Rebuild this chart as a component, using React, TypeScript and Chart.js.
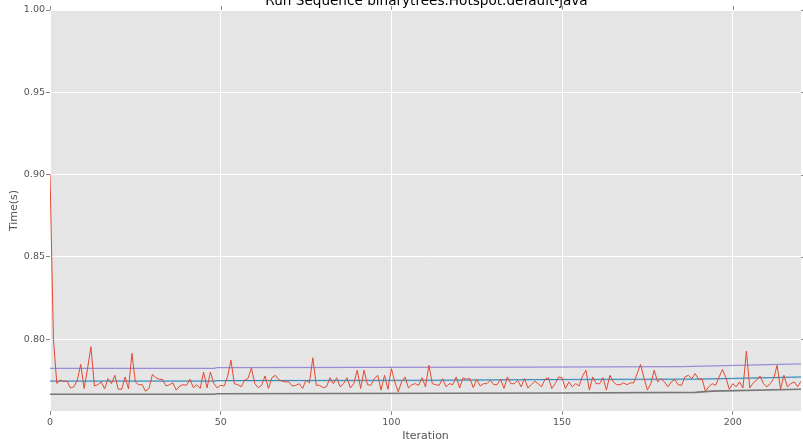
import React, { useEffect, useRef } from "react";
import { Chart, registerables } from "chart.js";

Chart.register(...registerables);

const chartTitle = "Run Sequence binarytrees.Hotspot.default-java";
const xAxisTitle = "Iteration";
const yAxisTitle = "Time(s)";
const xTicks = [0, 50, 100, 150, 200];
const yTicks = [0.8, 0.85, 0.9, 0.95, 1.0];

// Measured run times per iteration (index = iteration)
const runTimes = [
  0.9003, 0.8, 0.773, 0.775, 0.7744, 0.7744, 0.7703, 0.771, 0.775, 0.7846,
  0.77, 0.7821, 0.7953, 0.7715, 0.7723, 0.774, 0.7697, 0.776, 0.7729, 0.778,
  0.7695, 0.7695, 0.777, 0.7697, 0.7913, 0.774, 0.7723, 0.7723, 0.7683, 0.77,
  0.7785, 0.7765, 0.7756, 0.7754, 0.7715, 0.7723, 0.7734, 0.769, 0.7715, 0.7723,
  0.7719, 0.7756, 0.7705, 0.7723, 0.77, 0.78, 0.7703, 0.78, 0.7729, 0.7703,
  0.7719, 0.7715, 0.777, 0.7872, 0.7729, 0.7723, 0.771, 0.775, 0.776, 0.7825,
  0.7729, 0.7705, 0.7719, 0.7776, 0.77, 0.7765, 0.778, 0.7754, 0.7744, 0.774,
  0.774, 0.7715, 0.7719, 0.7729, 0.77, 0.775, 0.7734, 0.7886, 0.7719, 0.7719,
  0.7705, 0.771, 0.7765, 0.7729, 0.7765, 0.771, 0.7729, 0.7765, 0.7703, 0.7729,
  0.7811, 0.77, 0.7811, 0.7723, 0.7719, 0.776, 0.778, 0.769, 0.778, 0.7695,
  0.7821, 0.774, 0.768, 0.774, 0.777, 0.7703, 0.7723, 0.7729, 0.7719, 0.7765,
  0.771, 0.7841, 0.7729, 0.7723, 0.7719, 0.776, 0.771, 0.7729, 0.7723, 0.777,
  0.7703, 0.7765, 0.7756, 0.776, 0.7705, 0.7756, 0.7715, 0.7729, 0.7729, 0.775,
  0.7723, 0.7723, 0.7756, 0.77, 0.777, 0.7729, 0.7729, 0.775, 0.771, 0.776,
  0.7703, 0.7723, 0.7744, 0.7729, 0.771, 0.7756, 0.7765, 0.77, 0.7729, 0.777,
  0.7765, 0.77, 0.774, 0.771, 0.7729, 0.7715, 0.7776, 0.7811, 0.769, 0.777,
  0.7729, 0.7729, 0.7765, 0.769, 0.778, 0.774, 0.7723, 0.7723, 0.7734, 0.7723,
  0.7734, 0.7734, 0.779, 0.7846, 0.7765, 0.769, 0.7729, 0.7811, 0.774, 0.776,
  0.774, 0.771, 0.774, 0.7754, 0.7723, 0.7719, 0.777, 0.778, 0.776, 0.779,
  0.7756, 0.776, 0.7683, 0.771, 0.7729, 0.7719, 0.777, 0.7815, 0.7765, 0.7695,
  0.7729, 0.771, 0.774, 0.7703, 0.7927, 0.7703, 0.7734, 0.775, 0.7776, 0.7729,
  0.771, 0.7729, 0.776, 0.7841, 0.7697, 0.778, 0.771, 0.7729, 0.774, 0.771,
  0.7744,
];

// Running upper bound (purple)
const upperIters = [0, 48, 49, 140, 185, 220];
const upperValues = [0.7822, 0.7822, 0.7827, 0.783, 0.7833, 0.785];

// Running mean (blue) and its band
const meanIters = [0, 48, 49, 111, 150, 190, 220];
const meanValues = [0.7745, 0.7745, 0.7748, 0.775, 0.7755, 0.7757, 0.777];
const bandUpperValues = [0.7749, 0.7749, 0.7751, 0.7753, 0.7758, 0.776, 0.7773];
const bandLowerValues = [0.7739, 0.7739, 0.7741, 0.7743, 0.7748, 0.775, 0.7763];

// Running lower bound (gray)
const lowerIters = [0, 48, 49, 150, 189, 194, 220];
const lowerValues = [0.7665, 0.7665, 0.7668, 0.7672, 0.7676, 0.7684, 0.7695];

const FONT = "'DejaVu Sans', sans-serif";

const toPoints = (xs: number[], ys: number[]) => xs.map((x, i) => ({ x, y: ys[i] }));

const decorPlugin = {
  id: "decor",
  beforeDraw(chart: any) {
    const { ctx, chartArea } = chart;
    ctx.save();
    ctx.fillStyle = "#ffffff";
    ctx.fillRect(0, 0, chart.width, chart.height);
    ctx.fillStyle = "#E5E5E5";
    ctx.fillRect(chartArea.left, chartArea.top, chartArea.right - chartArea.left, chartArea.bottom - chartArea.top);
    ctx.restore();
  },
  afterDraw(chart: any) {
    const { ctx, chartArea, scales } = chart;
    ctx.save();
    ctx.strokeStyle = "#888888";
    ctx.lineWidth = 1;
    ctx.beginPath();
    xTicks.forEach((v) => {
      const px = Math.round(scales.x.getPixelForValue(v)) + 0.5;
      ctx.moveTo(px, chartArea.top);
      ctx.lineTo(px, chartArea.top - 4);
    });
    yTicks.forEach((v) => {
      const py = Math.round(scales.y.getPixelForValue(v)) + 0.5;
      ctx.moveTo(chartArea.right, py);
      ctx.lineTo(chartArea.right + 4, py);
    });
    ctx.stroke();
    ctx.fillStyle = "#000000";
    ctx.font = `13.6px ${FONT}`;
    ctx.textAlign = "center";
    ctx.textBaseline = "alphabetic";
    ctx.fillText(chartTitle, (chartArea.left + chartArea.right) / 2 + 1, 5);
    ctx.restore();
  },
};

export default function App() {
  const canvasRef = useRef<HTMLCanvasElement | null>(null);

  useEffect(() => {
    if (!canvasRef.current) return;
    const chart = new Chart(canvasRef.current, {
      type: "line",
      data: {
        datasets: [
          {
            label: "run",
            data: runTimes.map((v, i) => ({ x: i, y: v })),
            borderColor: "#E24A33",
            borderWidth: 1,
            pointRadius: 0,
            fill: false,
          },
          {
            label: "upper",
            data: toPoints(upperIters, upperValues),
            borderColor: "#988ED5",
            borderWidth: 1.2,
            pointRadius: 0,
            fill: false,
          },
          {
            label: "mean",
            data: toPoints(meanIters, meanValues),
            borderColor: "#348ABD",
            borderWidth: 1,
            pointRadius: 0,
            fill: false,
          },
          {
            label: "bandUpper",
            data: toPoints(meanIters, bandUpperValues),
            borderColor: "rgba(0,0,0,0)",
            borderWidth: 0,
            pointRadius: 0,
            backgroundColor: "rgba(52,138,189,0.3)",
            fill: "+1",
          },
          {
            label: "bandLower",
            data: toPoints(meanIters, bandLowerValues),
            borderColor: "rgba(0,0,0,0)",
            borderWidth: 0,
            pointRadius: 0,
            fill: false,
          },
          {
            label: "lower",
            data: toPoints(lowerIters, lowerValues),
            borderColor: "#777777",
            borderWidth: 1.6,
            pointRadius: 0,
            fill: false,
          },
        ],
      },
      options: {
        animation: false,
        responsive: false,
        devicePixelRatio: 1,
        layout: { padding: { top: 10, right: 2, left: 0, bottom: 0 } },
        plugins: {
          legend: { display: false },
          tooltip: { enabled: false },
          title: { display: false },
        },
        elements: { line: { tension: 0 } },
        scales: {
          x: {
            type: "linear",
            min: 0,
            max: 220,
            afterBuildTicks: (s: any) => {
              s.ticks = xTicks.map((v) => ({ value: v }));
            },
            afterFit: (s: any) => {
              s.height = 33;
            },
            border: { display: false },
            grid: { color: "#ffffff", lineWidth: 1, tickLength: 4, tickColor: "#888888", drawTicks: true },
            ticks: {
              color: "#555555",
              font: { family: FONT, size: 9.5 },
              padding: 2,
              maxRotation: 0,
              autoSkip: false,
              callback: (v: any) => String(v),
            },
            title: {
              display: true,
              text: xAxisTitle,
              color: "#555555",
              font: { family: FONT, size: 11 },
              padding: { top: 0, bottom: 1.5 },
            },
          },
          y: {
            type: "linear",
            min: 0.7563,
            max: 1.0,
            afterBuildTicks: (s: any) => {
              s.ticks = yTicks.map((v) => ({ value: v }));
            },
            afterFit: (s: any) => {
              s.width = 50;
            },
            border: { display: false },
            grid: { color: "#ffffff", lineWidth: 1, tickLength: 4, tickColor: "#888888", drawTicks: true },
            ticks: {
              color: "#555555",
              font: { family: FONT, size: 9.5 },
              padding: 1,
              autoSkip: false,
              callback: (v: any) => Number(v).toFixed(2),
            },
            title: {
              display: true,
              text: yAxisTitle,
              color: "#555555",
              font: { family: FONT, size: 11 },
              padding: { top: 8, bottom: 0 },
            },
          },
        },
      },
      plugins: [decorPlugin],
    } as any);
    return () => chart.destroy();
  }, []);

  return (
    <div style={{ position: "fixed", left: 0, top: 0, width: 803, height: 444 }}>
      <canvas ref={canvasRef} width={803} height={444} style={{ width: 803, height: 444, display: "block" }} />
    </div>
  );
}
